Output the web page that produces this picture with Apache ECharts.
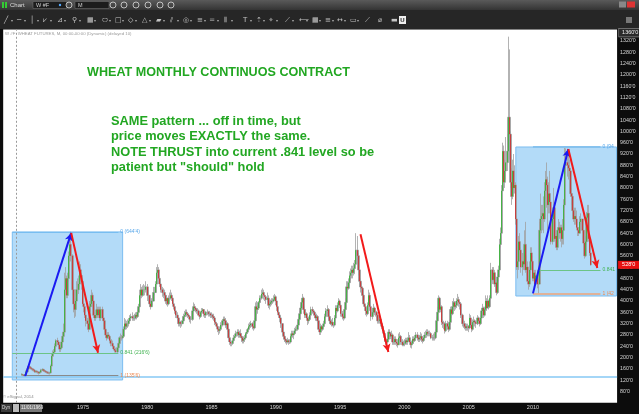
<!DOCTYPE html>
<html><head><meta charset="utf-8">
<script src="https://cdn.jsdelivr.net/npm/echarts@6/dist/echarts.min.js"></script>
<style>html,body{margin:0;padding:0;background:#111;overflow:hidden}#c{width:639px;height:414px}</style>
</head><body><div id="c"></div>
<script>
// ---------- DATA (cents, monthly W #F) ----------
const startMonth = '1970-04';
const firstOpen = 138;
const closes = [
 140,138,136,140,150,160,168,165,162,
 160,158,155,150,152,150,148,145,148,155,158,154,
 152,150,148,146,145,146,170,205,215,220,240,260,
 255,245,230,235,255,275,290,440,480,420,480,560,
 600,560,440,390,370,400,440,440,460,510,490,470,
 390,380,350,330,320,300,380,390,420,400,350,340,
 350,370,350,370,340,370,340,330,300,280,270,280,
 275,260,250,250,240,230,225,220,235,250,270,270,
 270,275,300,320,310,320,320,330,340,345,340,340,
 340,350,345,360,380,420,440,420,440,440,440,450,
 420,420,390,380,400,400,430,430,460,500,510,480,
 460,440,430,430,420,400,410,390,410,410,420,410,
 390,380,365,350,340,320,325,320,320,330,345,350,
 360,355,350,345,335,335,365,380,375,370,365,365,
 350,345,360,365,370,355,350,360,360,355,355,350,
 350,345,340,325,320,310,300,295,300,315,330,335,
 330,315,320,300,270,255,250,250,260,270,275,285,
 290,280,285,275,270,260,265,270,285,290,300,310,
 315,320,310,305,330,380,370,375,395,410,410,425,
 430,420,415,405,410,385,390,395,400,400,405,415,
 400,380,360,350,340,320,290,275,265,260,255,260,
 255,255,275,285,280,285,295,300,315,335,355,375,
 395,410,370,350,355,340,330,335,350,370,365,360,
 350,340,345,330,300,290,310,300,310,320,345,365,
 370,345,330,320,325,315,315,340,375,365,385,400,
 385,355,345,340,370,395,450,445,465,490,500,510,
 500,515,530,580,560,510,470,450,445,420,390,380,
 365,355,385,420,380,345,360,375,360,360,350,330,
 330,335,320,310,295,285,260,255,265,290,285,275,
 280,255,255,265,255,250,245,270,275,255,245,250,
 250,260,255,260,270,255,245,250,265,260,270,280,
 270,265,270,275,265,260,270,280,280,290,285,285,
 285,270,270,270,270,290,330,360,410,370,380,325,
 320,320,295,320,310,300,325,370,355,380,395,380,
 385,400,405,395,390,350,320,320,310,305,310,310,
 305,340,315,300,325,330,325,320,340,330,320,340,
 365,375,350,370,400,375,400,380,410,510,475,500,
 460,465,430,485,510,600,640,790,930,820,860,890,
 930,1050,990,820,770,860,800,810,690,520,540,610,
 580,520,540,530,600,510,520,470,460,510,570,540,
 480,500,460,490,460,460,650,690,700,710,690,790,
 830,810,740,780,750,610,690,730,620,630,590,650,
 660,640,660,620,650,740,880,890,880,870,860,780,
 770,720,690,700,690,660,650,640,680,690,650,605,
 560,610,695,710,620,570,528
];
const highs = [
 145,143,140,142,155,163,172,174,170,
 167,163,160,158,156,155,153,150,152,160,162,160,
 157,155,152,150,150,150,175,215,225,230,250,265,
 270,260,250,245,265,290,320,500,520,490,500,575,
 620,645,565,450,400,410,470,480,490,540,530,510,
 470,400,390,370,340,330,400,420,440,430,400,360,
 370,390,380,380,380,380,380,350,340,310,290,290,
 290,280,270,265,260,245,240,235,240,255,275,285,
 280,285,310,340,335,330,335,340,350,355,360,350,
 355,360,360,370,390,440,460,450,455,460,455,470,
 460,440,420,400,410,420,450,450,470,520,530,520,
 490,465,450,445,440,420,420,410,420,430,440,430,
 410,395,385,370,360,340,335,330,330,345,355,365,
 370,370,360,355,350,345,375,395,390,380,375,375,
 370,360,365,375,375,370,360,365,370,365,365,360,
 360,355,355,345,330,325,315,305,310,325,335,345,
 345,340,330,325,305,275,265,260,270,280,285,295,
 300,300,295,300,285,275,275,280,290,300,305,320,
 325,330,325,320,340,395,400,385,400,420,420,440,
 445,440,425,420,430,420,400,405,410,410,420,425,
 420,405,385,365,355,345,320,295,280,270,265,270,
 265,265,285,295,295,295,305,310,325,345,365,385,
 410,425,415,380,370,360,345,345,360,380,380,370,
 365,355,355,350,335,305,320,315,320,330,355,375,
 385,375,350,340,335,340,325,350,385,385,395,410,
 405,390,365,355,380,410,470,470,480,505,515,525,
 525,535,545,640,630,570,510,480,465,450,425,395,
 385,375,395,440,430,385,375,390,380,375,365,355,
 345,345,340,325,315,300,290,270,280,300,300,290,
 295,285,270,275,275,265,265,285,290,280,265,260,
 265,270,270,270,290,280,260,260,275,275,280,290,
 290,280,280,290,285,275,280,290,295,300,300,295,
 295,290,280,285,285,300,345,380,420,415,395,385,
 335,330,325,330,330,320,335,380,380,400,410,400,
 400,410,425,415,400,395,355,335,330,320,320,320,
 315,355,350,320,335,345,335,330,350,345,335,350,
 375,390,380,380,420,410,420,405,420,535,520,520,
 510,490,475,495,525,620,660,810,960,950,900,980,
 990,1335,1290,1000,870,900,920,880,820,700,580,630,
 640,590,570,570,650,680,560,540,490,540,590,590,
 560,510,510,510,510,480,680,780,740,740,770,820,
 860,890,840,820,860,760,710,800,750,680,640,660,
 690,680,670,670,690,760,947,940,930,920,900,870,
 800,780,730,730,730,720,680,660,700,710,690,650,
 610,630,715,740,740,620,575
];
const lows = [
 136,134,133,133,138,148,158,160,158,
 155,152,150,146,146,145,143,140,142,146,152,150,
 148,146,144,142,141,140,145,168,200,205,215,235,
 245,235,220,220,230,250,265,290,420,410,410,470,
 540,540,420,360,340,345,390,420,425,450,470,440,
 380,360,340,310,300,290,300,360,380,380,340,330,
 330,340,340,340,330,330,330,310,290,270,260,265,
 265,250,240,240,230,225,218,217,216,230,245,260,
 260,265,270,295,300,300,305,310,325,330,330,330,
 330,335,335,340,355,375,410,410,415,420,420,430,
 400,400,380,370,380,385,400,420,430,460,480,460,
 450,430,415,410,405,390,385,380,385,400,405,400,
 380,370,355,340,330,310,310,305,310,320,330,335,
 345,345,340,335,325,320,330,360,365,360,355,355,
 345,335,340,350,355,345,340,340,350,345,345,340,
 340,335,330,315,310,300,290,280,285,300,310,320,
 320,305,305,290,255,245,240,240,245,255,265,270,
 275,270,270,270,255,250,250,255,265,280,285,295,
 305,305,300,295,300,325,350,355,370,390,395,405,
 415,405,400,390,395,375,370,380,385,390,395,400,
 385,365,350,340,325,305,280,265,255,250,245,250,
 245,248,250,270,270,265,280,285,295,310,330,350,
 370,385,355,340,340,330,315,320,330,345,355,350,
 340,330,330,320,290,280,280,290,295,305,315,340,
 355,335,320,315,310,310,305,310,335,355,360,380,
 375,345,335,330,335,365,390,430,440,455,475,480,
 480,490,495,525,530,490,450,430,420,400,380,365,
 350,345,350,380,365,330,335,355,350,345,340,320,
 320,320,310,300,285,270,255,245,250,260,275,265,
 265,245,245,245,245,240,235,245,260,245,240,240,
 240,245,245,245,255,245,235,232,245,250,255,260,
 260,255,255,260,255,250,255,265,270,270,275,275,
 275,265,260,260,260,265,285,325,355,360,360,315,
 305,300,285,290,300,290,295,315,340,350,370,365,
 370,375,385,380,370,340,310,305,300,295,295,295,
 290,300,305,290,295,310,310,305,315,320,310,315,
 335,355,340,345,365,365,375,370,375,405,460,470,
 450,450,420,425,470,505,590,640,790,790,800,830,
 860,930,900,800,740,760,780,780,670,510,480,510,
 545,500,490,510,520,500,490,460,440,450,500,510,
 470,470,455,455,445,427,460,640,640,650,640,680,
 760,730,650,710,710,600,600,680,610,590,580,580,
 620,620,610,590,600,600,730,850,840,830,840,770,
 740,700,680,670,670,650,630,630,640,670,640,600,
 550,555,600,660,610,560,525
];
const tickYears = [1975,1980,1985,1990,1995,2000,2005,2010];
const lastPrice = 528;
const topPrice = 1360;
// annotation anchors [month, price]
const boxLeft = [['1969-07', 644.4], ['1978-02', 120.7]];
const boxRight = [['2008-09', 944.8], ['2016-07', 417.7]];
const arrowsBlue = [[['1970-07',133],['1974-02',641]], [['2010-01',427],['2012-10',938]]];
const arrowsRed = [[['1974-02',641],['1976-03',217]], [['1996-08',636],['1998-10',220]], [['2012-10',938],['2015-01',517]]];
const fibLeft = {from:'1969-07', fromLow:'1970-07', to:'1977-10', p0:644.4, p841:216.75, p1:135.75,
  t0:"0 (644'4)", t841:"0.841 (216'6)", t1:"1 (135'6)"};
const fibRight = {from:'2010-01', from841:'2010-07', to:'2015-04', p0:944.5, p841:509.3, p1:427,
  t0:"0 (944'4)", t841:"0.841 (509'2)", t1:"1 (427'0)"};
const hLine = 132;
const cursorMonth = '1969-11';

// ---------- BUILD ----------
const cats = [];
for (let i = 0; i < 573; i++) {
  const t = 1968 * 12 + 10 + i;
  cats.push(Math.floor(t / 12) + '-' + String(t % 12 + 1).padStart(2, '0'));
}
const s0 = cats.indexOf(startMonth);
const wick = cats.map(() => '-');
const body = cats.map(() => '-');
let prev = firstOpen;
closes.forEach((c, i) => {
  const o = prev;
  wick[s0 + i] = [o, c, lows[i], highs[i]];
  body[s0 + i] = [o, c, Math.min(o, c), Math.max(o, c)];
  prev = c;
});

const GREEN = '#22a722';
const FONT = '"Liberation Sans", Arial, sans-serif';
const lblBlue = '#5aa8ea', lblGreen = '#3fb24f', lblOrange = '#ef8a52';
const CLEAR = 'rgba(0,0,0,0)';

function seg(a, b, color, width, text, tcolor, trunc) {
  const lab = {show: !!text, position: 'end', formatter: text || '', color: tcolor, fontSize: 5, fontFamily: FONT, distance: 2};
  if (trunc) { lab.width = 15; lab.overflow = 'truncate'; lab.ellipsis = ''; }
  return [{coord: a, symbol: 'none', lineStyle: {color, width, type: 'solid'}, label: lab},
          {coord: b, symbol: 'none'}];
}
function arrow(pair, color) {
  return [{coord: pair[0], symbol: 'none', lineStyle: {color, width: 2, type: 'solid'}, label: {show: false}},
          {coord: pair[1], symbol: 'arrow', symbolSize: [6, 8]}];
}
const markLines = [];
markLines.push(seg([fibLeft.from, fibLeft.p0], [fibLeft.to, fibLeft.p0], '#78bdf0', 1, fibLeft.t0, lblBlue));
markLines.push(seg([fibLeft.from, fibLeft.p841], [fibLeft.to, fibLeft.p841], '#6cc486', 1.2, fibLeft.t841, lblGreen));
markLines.push(seg([fibLeft.fromLow, fibLeft.p1], [fibLeft.to, fibLeft.p1], '#8a8a8a', 1.2, fibLeft.t1, lblOrange));
markLines.push(seg([fibRight.from, fibRight.p0], [fibRight.to, fibRight.p0], '#86c2ee', 2, fibRight.t0, lblBlue, true));
markLines.push(seg([fibRight.from841, fibRight.p841], [fibRight.to, fibRight.p841], '#6cc486', 1.2, fibRight.t841, lblGreen, true));
markLines.push(seg([fibRight.from, fibRight.p1], [fibRight.to, fibRight.p1], '#eea47a', 1.5, fibRight.t1, lblOrange, true));
arrowsBlue.forEach(p => markLines.push(arrow(p, '#1a1af2')));
arrowsRed.forEach(p => markLines.push(arrow(p, '#f21a1a')));

const singleLines = [
  {yAxis: hLine, symbol: 'none', lineStyle: {color: '#86c8f4', width: 1.5, type: 'solid'}, label: {show: false}},
  {xAxis: cursorMonth, symbol: 'none', lineStyle: {color: '#9a9a9a', width: 1, type: [2, 2]}, label: {show: false}},
  {yAxis: lastPrice, symbol: 'none', lineStyle: {color: CLEAR, width: 0}, label: {show: true, position: 'end', formatter: lastPrice + "'0",
     color: '#fff', backgroundColor: '#e81010', padding: [1, 5, 1, 4], fontSize: 5.5, fontFamily: FONT, distance: 1}},
  {yAxis: topPrice, symbol: 'none', lineStyle: {color: CLEAR, width: 0}, label: {show: true, position: 'end', formatter: topPrice + "'0",
     color: '#eee', backgroundColor: '#2a2a2a', borderColor: '#9a9a9a', borderWidth: 0.6, padding: [1, 3, 1, 3], fontSize: 5.5, fontFamily: FONT, distance: 2, offset: [0, 3]}}
];

// ---------- decorative chrome ----------
const g = [];
g.push({type: 'rect', silent: true, shape: {x: 0, y: 0, width: 639, height: 10},
  style: {fill: new echarts.graphic.LinearGradient(0, 0, 0, 1, [{offset: 0, color: '#5a5a5a'}, {offset: 1, color: '#343434'}])}});
g.push({type: 'rect', silent: true, shape: {x: 0, y: 10, width: 639, height: 19}, style: {fill: '#262626'}});
g.push({type: 'rect', silent: true, shape: {x: 2, y: 2, width: 2, height: 6}, style: {fill: '#3c3'}});
g.push({type: 'rect', silent: true, shape: {x: 5, y: 2, width: 2, height: 6}, style: {fill: '#3c3'}});
g.push({type: 'text', silent: true, x: 10, y: 5, style: {text: 'Chart', fontSize: 6, fill: '#ddd', verticalAlign: 'middle', fontFamily: FONT}});
g.push({type: 'rect', silent: true, shape: {x: 33, y: 1.5, width: 34, height: 7}, style: {fill: '#1c1c1c', stroke: '#777', lineWidth: 0.5}});
g.push({type: 'text', silent: true, x: 36, y: 5, style: {text: 'W #F', fontSize: 5.5, fill: '#ccc', verticalAlign: 'middle', fontFamily: FONT}});
g.push({type: 'circle', silent: true, shape: {cx: 60, cy: 5, r: 1.2}, style: {fill: '#5af'}});
g.push({type: 'rect', silent: true, shape: {x: 75, y: 1.5, width: 34, height: 7}, style: {fill: '#1c1c1c', stroke: '#777', lineWidth: 0.5}});
g.push({type: 'text', silent: true, x: 78, y: 5, style: {text: 'M', fontSize: 5.5, fill: '#ccc', verticalAlign: 'middle', fontFamily: FONT}});
[69, 113, 124, 136, 148, 160, 171].forEach(x => g.push({type: 'circle', silent: true, shape: {cx: x, cy: 5, r: 3}, style: {fill: 'none', stroke: '#ddd', lineWidth: 0.8}}));
g.push({type: 'rect', silent: true, shape: {x: 619, y: 1.5, width: 7, height: 6}, style: {fill: '#888'}});
g.push({type: 'rect', silent: true, shape: {x: 627, y: 1.5, width: 8, height: 6}, style: {fill: '#d33'}});
const icons = ['╱', '─', '│', '⩗', '⊿', '⚲', '▦', '⬭', '□', '◇', '△', '▰', '⫽', '◎', '≡', '═', '⦀', 'T', '⇡', '⌖', '⟋', '⟵', '▦', '≡', '↔', '▭', '⟋', '⌀', '▬'];
const iconX = [4, 17, 30, 43, 57, 72, 87, 102, 115, 128, 142, 156, 170, 183, 197, 210, 224, 243, 256, 269, 285, 299, 312, 325, 337, 350, 365, 378, 391];
icons.forEach((t, i) => {
  g.push({type: 'text', silent: true, x: iconX[i], y: 20, style: {text: t, fontSize: 7, fill: '#c4c4c4', verticalAlign: 'middle', fontFamily: '"DejaVu Sans"'}});
  if (i < 26) g.push({type: 'text', silent: true, x: iconX[i] + 7, y: 21, style: {text: '▾', fontSize: 4, fill: '#aaa', verticalAlign: 'middle', fontFamily: '"DejaVu Sans"'}});
});
g.push({type: 'rect', silent: true, shape: {x: 399, y: 16, width: 7, height: 8}, style: {fill: '#eee'}});
g.push({type: 'text', silent: true, x: 400.3, y: 20.3, style: {text: 'U', fontSize: 6, fontWeight: 'bold', fill: '#111', verticalAlign: 'middle', fontFamily: FONT}});
g.push({type: 'rect', silent: true, shape: {x: 626, y: 17, width: 6, height: 6}, style: {fill: '#777'}});
g.push({type: 'text', silent: true, x: 5, y: 34, style: {text: 'W #F  WHEAT FUTURES, M, 00:00-00:00 (Dynamic) (delayed 10)', fontSize: 4.3, fill: '#9a9a9a', verticalAlign: 'middle', fontFamily: FONT}});
g.push({type: 'text', silent: true, x: 3, y: 397, style: {text: '© eSignal, 2014', fontSize: 4.3, fill: '#8a8a8a', verticalAlign: 'middle', fontFamily: FONT}});
g.push({type: 'rect', silent: true, shape: {x: 1, y: 404, width: 11, height: 8}, style: {fill: '#3a3a3a'}});
g.push({type: 'text', silent: true, x: 2, y: 408, style: {text: 'Dyn', fontSize: 4.5, fill: '#ddd', verticalAlign: 'middle', fontFamily: FONT}});
g.push({type: 'rect', silent: true, shape: {x: 13, y: 404, width: 6, height: 8}, style: {fill: '#bbb'}});
g.push({type: 'rect', silent: true, shape: {x: 20, y: 404, width: 22, height: 8}, style: {fill: '#777'}});
g.push({type: 'text', silent: true, x: 21, y: 408, style: {text: '11/01/1969', fontSize: 4.5, fill: '#f0f0f0', verticalAlign: 'middle', fontFamily: FONT}});
// commentary
g.push({type: 'text', silent: true, x: 87, y: 73, style: {text: 'WHEAT MONTHLY CONTINUOS CONTRACT', fontSize: 12.6, fontWeight: 'bold', fill: GREEN, verticalAlign: 'middle', fontFamily: FONT}});
const noteLines = ['SAME pattern ... off in time, but', 'price moves EXACTLY the same.', 'NOTE THRUST into current .841 level so be', 'patient but "should" hold'];
noteLines.forEach((t, i) => g.push({type: 'text', silent: true, x: 111, y: 121.7 + i * 15.2,
  style: {text: t, fontSize: 12.8, fontWeight: 'bold', fill: GREEN, verticalAlign: 'middle', fontFamily: FONT}}));

const option = {
  animation: false,
  backgroundColor: '#0c0c0c',
  graphic: g,
  grid: {left: 3.18, top: 29.6, width: 613.9, height: 373.2, show: true, backgroundColor: '#ffffff', borderWidth: 0, containLabel: false},
  xAxis: {
    type: 'category', data: cats, boundaryGap: true,
    axisLine: {show: false}, axisTick: {show: false}, splitLine: {show: false},
    axisLabel: {
      interval: (idx, val) => { const [y, m] = val.split('-'); return m === '01' && tickYears.includes(+y); },
      formatter: v => v.slice(0, 4), color: '#d6d6d6', fontSize: 5.5, fontFamily: FONT, margin: 2
    }
  },
  yAxis: {
    type: 'value', position: 'right', min: 40, max: 1360, interval: 40, scale: false,
    axisLine: {show: false}, axisTick: {show: false}, splitLine: {show: false},
    axisLabel: {formatter: v => v + "'0", color: '#d6d6d6', fontSize: 5.3, fontFamily: FONT, margin: 3, showMinLabel: false, showMaxLabel: false}
  },
  series: [
    {type: 'line', data: [], z: 1, silent: true,
     markArea: {silent: true, itemStyle: {color: '#b3dbf8', borderColor: '#7cbdf0', borderWidth: 1},
       data: [[{coord: boxLeft[0]}, {coord: boxLeft[1]}], [{coord: boxRight[0]}, {coord: boxRight[1]}]]}},
    {type: 'candlestick', data: wick, z: 2, silent: true, barWidth: 2,
     itemStyle: {color: '#a0a0a0', color0: '#a0a0a0', borderColor: '#a0a0a0', borderColor0: '#a0a0a0', borderWidth: 0.8}},
    {type: 'candlestick', data: body, z: 3, silent: true, barWidth: 1,
     itemStyle: {color: '#2db52d', color0: '#d02424', borderColor: '#2db52d', borderColor0: '#d02424', borderWidth: 0.8}},
    {type: 'line', data: [], z: 5, silent: true,
     markLine: {silent: true, animation: false, symbol: 'none', data: markLines.concat(singleLines)}}
  ]
};
const chart = echarts.init(document.getElementById('c'), null, {width: 639, height: 414});
chart.setOption(option);
</script>
</body></html>
